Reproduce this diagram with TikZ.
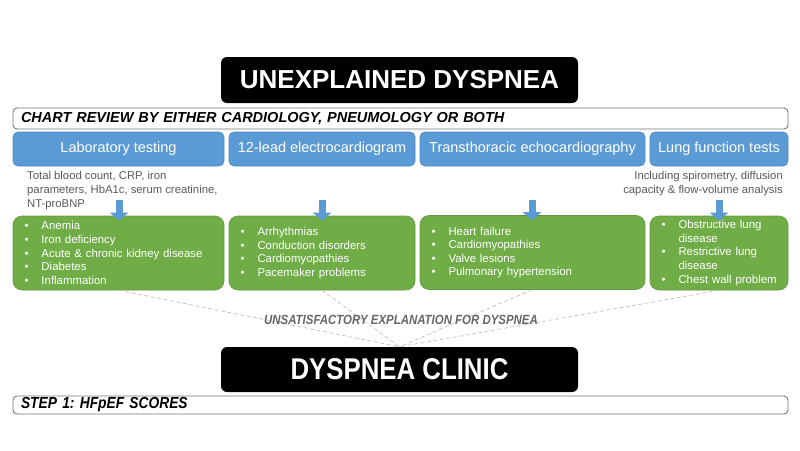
\documentclass[tikz,border=0pt]{standalone}
\usepackage{fontspec}
\setmainfont{Liberation Sans}
\newfontfamily\narrowfont{Liberation Sans}[FakeStretch=0.86]
\usepackage{xcolor}
\usetikzlibrary{arrows.meta,positioning,calc}
\frenchspacing
\definecolor{testblue}{HTML}{5B9BD5}
\definecolor{testedge}{HTML}{4A86BE}
\definecolor{findgreen}{HTML}{70AD47}
\definecolor{findedge}{HTML}{62983E}
\definecolor{notegray}{HTML}{595959}
\definecolor{bargray}{HTML}{767676}
\definecolor{linkgray}{HTML}{BFBFBF}
\definecolor{unsatgray}{HTML}{666666}
\newcommand{\itm}{\makebox[17pt][l]{\textbullet}}
\newcommand{\ind}{\hspace*{17pt}}
\tikzset{
  titlebox/.style={fill=black,rounded corners=6pt,text=white,font=\fontsize{26}{30}\selectfont\bfseries,minimum width=357pt,inner sep=0pt},
  bar/.style={draw=bargray,line width=0.9pt,fill=white,rounded corners=4pt,minimum width=775pt,text width=759pt,inner xsep=8pt,inner ysep=0pt,align=left},
  testbox/.style={draw=testedge,line width=0.6pt,fill=testblue,rounded corners=5pt,minimum height=34pt,inner sep=0pt,text=white,font=\fontsize{14.5}{17}\selectfont},
  findbox/.style={draw=findedge,line width=0.6pt,fill=findgreen,rounded corners=9pt,minimum height=74pt,inner xsep=11.5pt,inner ysep=0pt,align=left,text=white,font=\fontsize{11.4}{13.6}\selectfont},
  note/.style={inner sep=0pt,text=notegray,font=\fontsize{11.3}{14}\selectfont},
  blockarr/.style={line width=7pt,draw=testblue,-{Triangle[width=18pt,length=8pt]}},
  dashline/.style={draw=linkgray,line width=0.7pt,dash pattern=on 4pt off 2.5pt}
}
\begin{document}
\begin{tikzpicture}[x=1pt,y=-1pt]
  \useasboundingbox (0,0) rectangle (800,450);
  % header
  \node[titlebox,minimum height=46pt] (top) at (399.5,80) {UNEXPLAINED DYSPNEA};
  \node[bar,minimum height=21pt,font=\fontsize{14.5}{16}\selectfont\bfseries\itshape] (chart) at (400.5,118.5) {CHART REVIEW BY EITHER CARDIOLOGY, PNEUMOLOGY OR BOTH};
  % tests
  \foreach \x/\w/\name/\txt in {118.5/211/lab/Laboratory testing,322/186/ecg/12-lead electrocardiogram,532.5/225/echo/Transthoracic echocardiography,719/138/lung/Lung function tests} {
    \node[testbox,minimum width=\w pt] (t\name) at (\x,149) {\txt};
  }
  \node[note,anchor=west,align=left] (labnote) at (27,191) {Total blood count, CRP, iron\\parameters, HbA1c, serum creatinine,\\NT-proBNP};
  \node[note,anchor=east,align=right] (lungnote) at (783,184) {Including spirometry, diffusion\\capacity \& flow-volume analysis};
  % findings
  \node[findbox,minimum width=211pt,text width=188pt] (flab) at (118.5,253) {\itm Anemia\\\itm Iron deficiency\\\itm Acute \& chronic kidney disease\\\itm Diabetes\\\itm Inflammation};
  \node[findbox,minimum width=186pt,text width=163pt] (fecg) at (322,253) {\itm Arrhythmias\\\itm Conduction disorders\\\itm Cardiomyopathies\\\itm Pacemaker problems};
  \node[findbox,minimum width=225pt,text width=202pt] (fecho) at (532.5,252.5) {\itm Heart failure\\\itm Cardiomyopathies\\\itm Valve lesions\\\itm Pulmonary hypertension};
  \node[findbox,minimum width=138pt,text width=115pt] (flung) at (719,253) {\itm Obstructive lung\\\ind disease\\\itm Restrictive lung\\\ind disease\\\itm \mbox{Chest wall problem}};
  % clinic
  \node[titlebox,minimum height=45pt,font=\fontsize{30}{34}\selectfont\narrowfont\bfseries] (clinic) at (399.5,369.5) {DYSPNEA CLINIC};
  \node[bar,minimum height=18pt,font=\fontsize{16}{18}\selectfont\narrowfont\bfseries\itshape] (step) at (400.5,405) {STEP 1: HFpEF SCORES};
  \foreach \name/\x in {lab/119,ecg/322,echo/532,lung/719} {
    \coordinate (a\name) at (\x,200);
    \draw[dashline] (a\name |- f\name.south) -- (clinic.north);
    \draw[blockarr] (a\name) -- ($(a\name |- f\name.north)+(0,5)$);
  }
  \node[text=unsatgray,font=\fontsize{13.3}{15}\selectfont\narrowfont\bfseries\itshape] (unsat) at (401,320) {UNSATISFACTORY EXPLANATION FOR DYSPNEA};
\end{tikzpicture}
\end{document}
